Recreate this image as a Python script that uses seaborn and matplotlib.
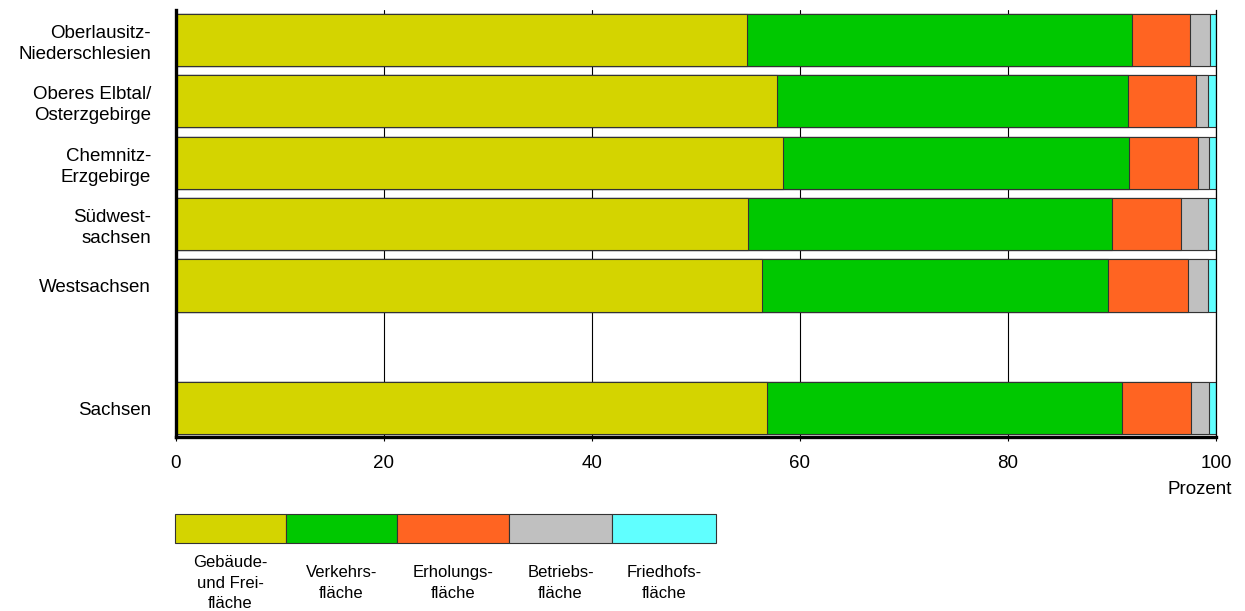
import matplotlib
matplotlib.use("Agg")
import matplotlib.pyplot as plt
import seaborn as sns
import pandas as pd
from matplotlib.patches import Rectangle

# Anteile der Siedlungs- und Verkehrsfläche je Planungsregion (Prozent)
regionen = ["Oberlausitz-\nNiederschlesien", "Oberes Elbtal/\nOsterzgebirge",
            "Chemnitz-\nErzgebirge", "Südwest-\nsachsen", "Westsachsen", "Sachsen"]
gebaeude = [54.9, 57.8, 58.4, 55.0, 56.3, 56.8]
verkehr = [37.0, 33.7, 33.2, 35.0, 33.3, 34.2]
erholung = [5.6, 6.6, 6.7, 6.6, 7.7, 6.6]
betrieb = [1.9, 1.1, 1.0, 2.6, 1.9, 1.7]
friedhof = [0.6, 0.8, 0.7, 0.8, 0.8, 0.7]

kategorien = ["Gebäude-\nund Frei-\nfläche", "Verkehrs-\nfläche", "Erholungs-\nfläche",
              "Betriebs-\nfläche", "Friedhofs-\nfläche"]
farben = ["#d4d400", "#00c800", "#ff6422", "#c0c0c0", "#60ffff"]
xticks = [0, 20, 40, 60, 80, 100]

# leere Zeile zwischen den Regionen und Sachsen
reihenfolge = regionen[:5] + [" "] + regionen[5:]

df = pd.DataFrame({"Region": regionen})
spalten = ["gebaeude", "verkehr", "erholung", "betrieb", "friedhof"]
for name, werte in zip(spalten, [gebaeude, verkehr, erholung, betrieb, friedhof]):
    df[name] = werte
kum = df[spalten].cumsum(axis=1)
for i, name in enumerate(spalten):
    df["kum%d" % i] = kum[name]

sns.set_theme(style="white")
plt.rcParams["font.family"] = ["Liberation Sans", "DejaVu Sans"]
for key in ["text.color", "axes.labelcolor", "xtick.color", "ytick.color"]:
    plt.rcParams[key] = "black"

fig = plt.figure(figsize=(12.45, 6.11), dpi=100)
ax = fig.add_axes([176 / 1245, 1 - 437 / 611, 1040 / 1245, 427 / 611])

# gestapelte Balken: von hinten (Summe) nach vorne zeichnen
for i in reversed(range(5)):
    sns.barplot(data=df, x="kum%d" % i, y="Region", order=reihenfolge, orient="h",
                color=farben[i], saturation=1, width=0.85, errorbar=None,
                edgecolor="#333333", linewidth=0.8, ax=ax)

ax.set_xlim(0, 100)
ax.set_ylim(6.47, -0.49)
ax.set_xticks(xticks, labels=[str(t) for t in xticks], fontsize=13.5)
ax.set_yticks(range(len(reihenfolge)), labels=reihenfolge, fontsize=13.5,
              linespacing=1.3, ha="right", multialignment="right")
ax.set_xlabel("")
ax.set_ylabel("")
ax.tick_params(axis="y", length=0, pad=18)
ax.tick_params(axis="x", length=3, width=0.8, color="black", pad=10, direction="out",
               bottom=True)

ax.grid(axis="x", color="black", linewidth=0.8)
ax.grid(axis="y", visible=False)
ax.set_axisbelow(True)
ax.spines["top"].set_visible(False)
ax.spines["left"].set_linewidth(2.4)
ax.spines["bottom"].set_linewidth(2.4)
ax.spines["right"].set_linewidth(0.9)
for s in ax.spines.values():
    s.set_color("black")

fig.text(1232 / 1245, 1 - 490 / 611, "Prozent", ha="right", va="center", fontsize=13.5)

# Legende als Farbleiste unter dem Diagramm
kanten = [175, 286, 397, 509, 612, 716]
lax = fig.add_axes([175 / 1245, 1 - 543 / 611, (716 - 175) / 1245, 29 / 611])
lax.set_xlim(kanten[0], kanten[-1])
lax.set_ylim(0, 1)
lax.axis("off")
for i in range(5):
    lax.add_patch(Rectangle((kanten[i], 0), kanten[i + 1] - kanten[i], 1,
                            facecolor=farben[i], edgecolor="#333333", linewidth=0.8,
                            clip_on=False))
    mitte = (kanten[i] + kanten[i + 1]) / 2
    fig.text(mitte / 1245, 1 - 583 / 611, kategorien[i], ha="center", va="center",
             fontsize=12, linespacing=1.42)

fig.savefig("out.png", dpi=100)
